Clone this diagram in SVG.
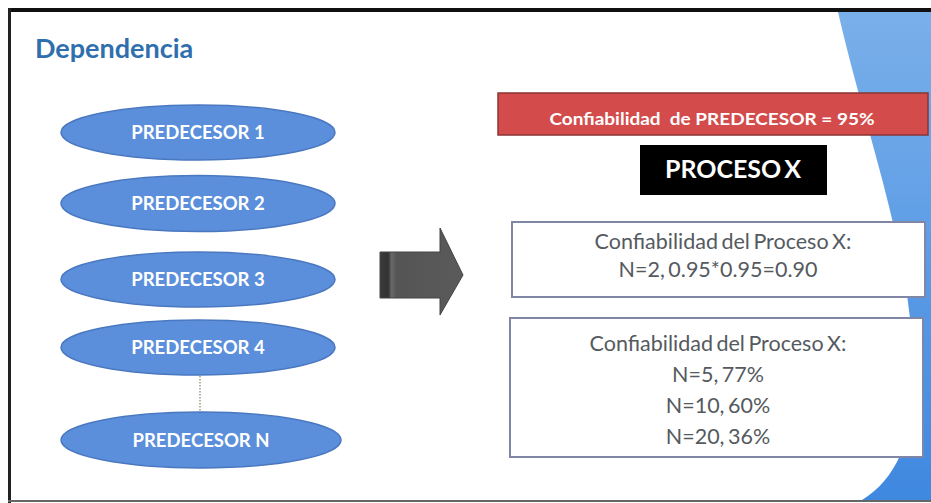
<svg xmlns="http://www.w3.org/2000/svg" width="931" height="503" viewBox="0 0 931 503">
<style>
.ell{fill:#5b8fdb;stroke:#4a78c0;stroke-width:1.5}
.et{font-family:Lato,"Liberation Sans",sans-serif;font-weight:bold;font-size:18.5px;fill:#ffffff;text-anchor:middle}
.bx{fill:#ffffff;stroke:#7f86a6;stroke-width:2}
.bt{font-family:Lato,"Liberation Sans",sans-serif;font-size:21.5px;fill:#555a60;text-anchor:middle;word-spacing:-2px}
</style>
<defs>
<linearGradient id="sw" x1="0" y1="0" x2="0" y2="1">
<stop offset="0" stop-color="#7ab0ea"/>
<stop offset="1" stop-color="#3f88e0"/>
</linearGradient>
<linearGradient id="ar" x1="0" y1="0" x2="1" y2="0">
<stop offset="0" stop-color="#3a3a3a"/>
<stop offset="0.1" stop-color="#333"/>
<stop offset="0.14" stop-color="#6a6a6a"/>
<stop offset="0.2" stop-color="#555"/>
<stop offset="1" stop-color="#5a5a5a"/>
</linearGradient>
</defs>
<rect x="0" y="0" width="931" height="503" fill="#ffffff"/>
<path d="M838,12 L931,12 L931,500 L862,500 C895,480 914,440 914,380 C912,250 870,150 838,12 Z" fill="url(#sw)"/>
<line x1="8" y1="10" x2="931" y2="10" stroke="#111" stroke-width="4"/>
<line x1="9.5" y1="8" x2="9.5" y2="503" stroke="#222" stroke-width="3"/>
<line x1="8" y1="501" x2="931" y2="501" stroke="#666" stroke-width="2"/>
<text x="35" y="58" font-family="Lato,'Liberation Sans',sans-serif" font-weight="bold" font-size="27" fill="#2f6fae">Dependencia</text>
<g id="connectors">
<line x1="200" y1="376" x2="200" y2="412" stroke="#8a7a6a" stroke-width="1.2" stroke-dasharray="1.5,1.5"/>
</g>
<g id="pred1"><ellipse class="ell" cx="198" cy="132.5" rx="137" ry="27.5"/><text class="et" x="198" y="139">PREDECESOR 1</text></g>
<g id="pred2"><ellipse class="ell" cx="198" cy="203.5" rx="137" ry="28"/><text class="et" x="198" y="210">PREDECESOR 2</text></g>
<g id="pred3"><ellipse class="ell" cx="198" cy="279.5" rx="137" ry="27.5"/><text class="et" x="198" y="286">PREDECESOR 3</text></g>
<g id="pred4"><ellipse class="ell" cx="198" cy="347.5" rx="137" ry="27.5"/><text class="et" x="198" y="354">PREDECESOR 4</text></g>
<g id="predN"><ellipse class="ell" cx="201" cy="440" rx="140" ry="28"/><text class="et" x="201" y="446.5">PREDECESOR N</text></g>
<g id="arrow"><path d="M380,252 L440,252 L440,228 L463,275 L440,315 L440,298 L380,298 Z" fill="url(#ar)" stroke="#444" stroke-width="1"/></g>
<g id="reliability"><rect x="498" y="93" width="430" height="42" fill="#d34b4b" stroke="#8a3535" stroke-width="1.5"/><text x="712" y="125" font-family="Lato,'Liberation Sans',sans-serif" font-weight="bold" font-size="17.5" fill="#ffffff" text-anchor="middle" textLength="325" lengthAdjust="spacingAndGlyphs" xml:space="preserve">Confiabilidad  de PREDECESOR = 95%</text></g>
<g id="proceso"><rect x="640" y="145" width="187" height="50" fill="#000000"/><text x="733" y="178" font-family="Lato,'Liberation Sans',sans-serif" font-weight="bold" font-size="25" fill="#ffffff" text-anchor="middle" word-spacing="-3">PROCESO X</text></g>
<g id="box1"><rect class="bx" x="512" y="222" width="413" height="75"/><text class="bt" x="723" y="249">Confiabilidad del Proceso X:</text><text class="bt" x="718" y="277">N=2, 0.95*0.95=0.90</text></g>
<g id="box2"><rect class="bx" x="510" y="318" width="413" height="139"/><text class="bt" x="718" y="351">Confiabilidad del Proceso X:</text><text class="bt" x="718" y="382">N=5, 77%</text><text class="bt" x="718" y="413">N=10, 60%</text><text class="bt" x="718" y="444">N=20, 36%</text></g>
</svg>
